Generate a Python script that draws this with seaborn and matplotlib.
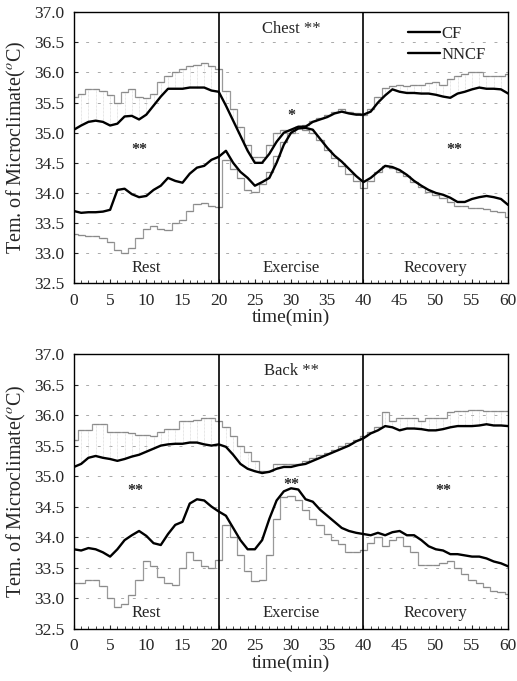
import numpy as np
import pandas as pd
import matplotlib
matplotlib.use("Agg")
import matplotlib.pyplot as plt
from matplotlib.ticker import MultipleLocator, FormatStrFormatter
import seaborn as sns

time = list(range(0, 61))

chest_cf_upper = [35.05, 35.12, 35.18, 35.20, 35.18, 35.12, 35.15, 35.27, 35.28, 35.22,
                  35.30, 35.45, 35.60, 35.73, 35.73, 35.73, 35.75, 35.75, 35.75, 35.70,
                  35.68, 35.45, 35.20, 34.95, 34.70, 34.50, 34.50, 34.65, 34.85, 35.00,
                  35.05, 35.10, 35.10, 35.18, 35.22, 35.26, 35.32, 35.35, 35.32, 35.30,
                  35.30, 35.35, 35.50, 35.62, 35.72, 35.68, 35.66, 35.66, 35.65, 35.65,
                  35.63, 35.60, 35.58, 35.65, 35.68, 35.72, 35.75, 35.73, 35.73, 35.72, 35.65]
chest_nncf_upper = [35.60, 35.65, 35.72, 35.72, 35.70, 35.62, 35.50, 35.68, 35.72, 35.60,
                    35.58, 35.65, 35.85, 35.95, 36.00, 36.05, 36.10, 36.12, 36.15, 36.10,
                    36.05, 35.70, 35.40, 35.10, 34.80, 34.60, 34.60, 34.80, 35.00, 35.05,
                    35.05, 35.10, 35.12, 35.20, 35.25, 35.30, 35.35, 35.40, 35.35, 35.32,
                    35.30, 35.40, 35.60, 35.75, 35.78, 35.80, 35.78, 35.80, 35.80, 35.82,
                    35.85, 35.80, 35.90, 35.95, 35.98, 36.00, 36.00, 35.95, 35.95, 35.95, 35.98]
chest_cf_lower = [33.70, 33.67, 33.68, 33.68, 33.69, 33.72, 34.05, 34.07, 33.98, 33.93,
                  33.95, 34.05, 34.12, 34.25, 34.20, 34.17, 34.32, 34.42, 34.45, 34.55,
                  34.60, 34.70, 34.50, 34.35, 34.25, 34.12, 34.18, 34.25, 34.50, 34.80,
                  35.00, 35.07, 35.08, 35.05, 34.90, 34.75, 34.62, 34.52, 34.40, 34.28,
                  34.18, 34.25, 34.35, 34.45, 34.43, 34.38, 34.30, 34.20, 34.12, 34.05,
                  34.00, 33.97, 33.92, 33.85, 33.85, 33.90, 33.93, 33.95, 33.93, 33.90, 33.80]
chest_nncf_lower = [33.32, 33.30, 33.28, 33.28, 33.25, 33.18, 33.05, 33.00, 33.08, 33.25,
                    33.40, 33.45, 33.40, 33.38, 33.50, 33.55, 33.70, 33.82, 33.83, 33.78,
                    33.77, 34.55, 34.40, 34.25, 34.05, 34.02, 34.15, 34.35, 34.62, 34.85,
                    35.00, 35.10, 35.05, 35.00, 34.88, 34.72, 34.58, 34.45, 34.32, 34.20,
                    34.08, 34.20, 34.35, 34.45, 34.42, 34.35, 34.28, 34.18, 34.10, 34.02,
                    33.97, 33.92, 33.85, 33.78, 33.78, 33.75, 33.75, 33.73, 33.70, 33.68, 33.60]

back_cf_upper = [35.15, 35.20, 35.30, 35.33, 35.30, 35.28, 35.25, 35.28, 35.32, 35.35,
                 35.40, 35.45, 35.50, 35.52, 35.53, 35.53, 35.55, 35.55, 35.52, 35.50,
                 35.52, 35.48, 35.35, 35.20, 35.12, 35.08, 35.05, 35.07, 35.12, 35.15,
                 35.15, 35.18, 35.20, 35.25, 35.30, 35.35, 35.40, 35.45, 35.50, 35.57,
                 35.62, 35.70, 35.75, 35.82, 35.80, 35.75, 35.78, 35.78, 35.77, 35.75,
                 35.75, 35.77, 35.80, 35.82, 35.82, 35.82, 35.83, 35.85, 35.83, 35.83, 35.82]
back_nncf_upper = [35.60, 35.75, 35.75, 35.85, 35.85, 35.72, 35.72, 35.72, 35.70, 35.68,
                   35.68, 35.65, 35.72, 35.78, 35.78, 35.90, 35.90, 35.92, 35.95, 35.95,
                   35.90, 35.80, 35.65, 35.50, 35.40, 35.25, 35.08, 35.08, 35.20, 35.20,
                   35.20, 35.20, 35.25, 35.30, 35.35, 35.38, 35.42, 35.50, 35.55, 35.60,
                   35.65, 35.72, 35.80, 36.05, 35.90, 35.95, 35.95, 35.95, 35.90, 35.95,
                   35.95, 35.95, 36.05, 36.07, 36.07, 36.08, 36.08, 36.07, 36.07, 36.07, 36.07]
back_cf_lower = [33.80, 33.78, 33.82, 33.80, 33.75, 33.68, 33.80, 33.95, 34.03, 34.10,
                 34.02, 33.90, 33.87, 34.05, 34.20, 34.25, 34.55, 34.62, 34.60, 34.50,
                 34.42, 34.35, 34.15, 33.95, 33.80, 33.80, 33.95, 34.30, 34.60, 34.75,
                 34.80, 34.78, 34.62, 34.58, 34.45, 34.35, 34.25, 34.15, 34.10, 34.07,
                 34.05, 34.03, 34.07, 34.03, 34.08, 34.10, 34.03, 34.03, 33.95, 33.85,
                 33.80, 33.78, 33.72, 33.72, 33.70, 33.68, 33.68, 33.65, 33.60, 33.57, 33.52]
back_nncf_lower = [33.25, 33.25, 33.30, 33.30, 33.20, 33.00, 32.85, 32.90, 33.05, 33.30,
                   33.60, 33.52, 33.35, 33.25, 33.22, 33.50, 33.75, 33.62, 33.52, 33.50,
                   33.62, 34.20, 34.00, 33.70, 33.45, 33.28, 33.30, 33.70, 34.30, 34.65,
                   34.68, 34.60, 34.45, 34.30, 34.20, 34.05, 33.95, 33.88, 33.75, 33.75,
                   33.78, 33.90, 34.00, 33.85, 33.95, 34.00, 33.85, 33.75, 33.55, 33.55,
                   33.55, 33.58, 33.60, 33.50, 33.40, 33.30, 33.25, 33.18, 33.12, 33.10, 33.07]

phase_labels = ["Rest", "Exercise", "Recovery"]
panel_titles = ["Chest **", "Back **"]
stars = [[(9, "**", 34.72), (30, "*", 35.28), (52.5, "**", 34.72)],
         [(8.5, "**", 34.75), (30, "**", 34.85), (51, "**", 34.75)]]

sns.set_theme(style="white")
plt.rcParams["font.family"] = ["Liberation Serif", "DejaVu Serif"]
plt.rcParams["mathtext.fontset"] = "stix"

fig = plt.figure(figsize=(5.17, 6.81), dpi=100)
ax1 = fig.add_axes([0.143, 0.584, 0.840, 0.398])
ax2 = fig.add_axes([0.143, 0.077, 0.840, 0.403])

panels = [
    (ax1, chest_cf_upper, chest_nncf_upper, chest_cf_lower, chest_nncf_lower),
    (ax2, back_cf_upper, back_nncf_upper, back_cf_lower, back_nncf_lower),
]

for i, (ax, cfu, nnu, cfl, nnl) in enumerate(panels):
    df = pd.DataFrame({"time": time, "cfu": cfu, "nnu": nnu, "cfl": cfl, "nnl": nnl})
    ax.vlines(df["time"], df["nnu"], df["cfu"], color="#cfcfcf", lw=0.5,
              linestyles=(0, (1, 1)))
    for col in ["nnu", "nnl"]:
        sns.lineplot(data=df, x="time", y=col, ax=ax, color="#9a9a9a", lw=0.9,
                     drawstyle="steps-mid", marker="_", markersize=5,
                     markeredgewidth=0.8, markeredgecolor="#8a8a8a")
    for col in ["cfu", "cfl"]:
        sns.lineplot(data=df, x="time", y=col, ax=ax, color="black", lw=1.7)

    for y in [33.0, 33.5, 34.0, 34.5, 35.0, 35.5, 36.0, 36.5]:
        ax.axhline(y, color="#aaaaaa", lw=0.7, ls=(0, (3, 9)), zorder=0)
    ax.axvline(20, color="black", lw=1.2)
    ax.axvline(40, color="black", lw=1.2)

    ax.set_xlim(0, 60)
    ax.set_ylim(32.5, 37.0)
    ax.xaxis.set_major_locator(MultipleLocator(5))
    ax.xaxis.set_minor_locator(MultipleLocator(1))
    ax.yaxis.set_major_locator(MultipleLocator(0.5))
    ax.yaxis.set_major_formatter(FormatStrFormatter("%.1f"))
    ax.tick_params(axis="both", which="major", direction="in", length=3, width=0.8,
                   labelsize=12.5, pad=7, bottom=True, left=True)
    ax.tick_params(axis="x", which="minor", direction="in", length=2, width=0.6, bottom=True)
    for s in ax.spines.values():
        s.set_color("black")
        s.set_linewidth(1.0)
    ax.set_xlabel("time(min)", fontsize=14, labelpad=0)
    ax.set_ylabel("Tem. of Microclimate($^{o}$C)", fontsize=14.5, labelpad=4)

    ax.text(30, 36.72, panel_titles[i], ha="center", va="center", fontsize=12)
    for x, lab in zip([10, 30, 50], phase_labels):
        ax.text(x, 32.75, lab, ha="center", va="center", fontsize=12)
    for x, s, y in stars[i]:
        ax.text(x, y, s, ha="center", va="center", fontsize=11.5, fontweight="bold")

ax1.plot([], [], color="black", lw=1.7, label="CF")
ax1.plot([], [], color="black", lw=1.7, label="NNCF")
ax1.legend(loc="upper left", bbox_to_anchor=(0.755, 0.975), frameon=False, fontsize=12,
           handlelength=1.9, handletextpad=0.1, labelspacing=0.3, borderaxespad=0)

fig.savefig("out.png", dpi=100)
